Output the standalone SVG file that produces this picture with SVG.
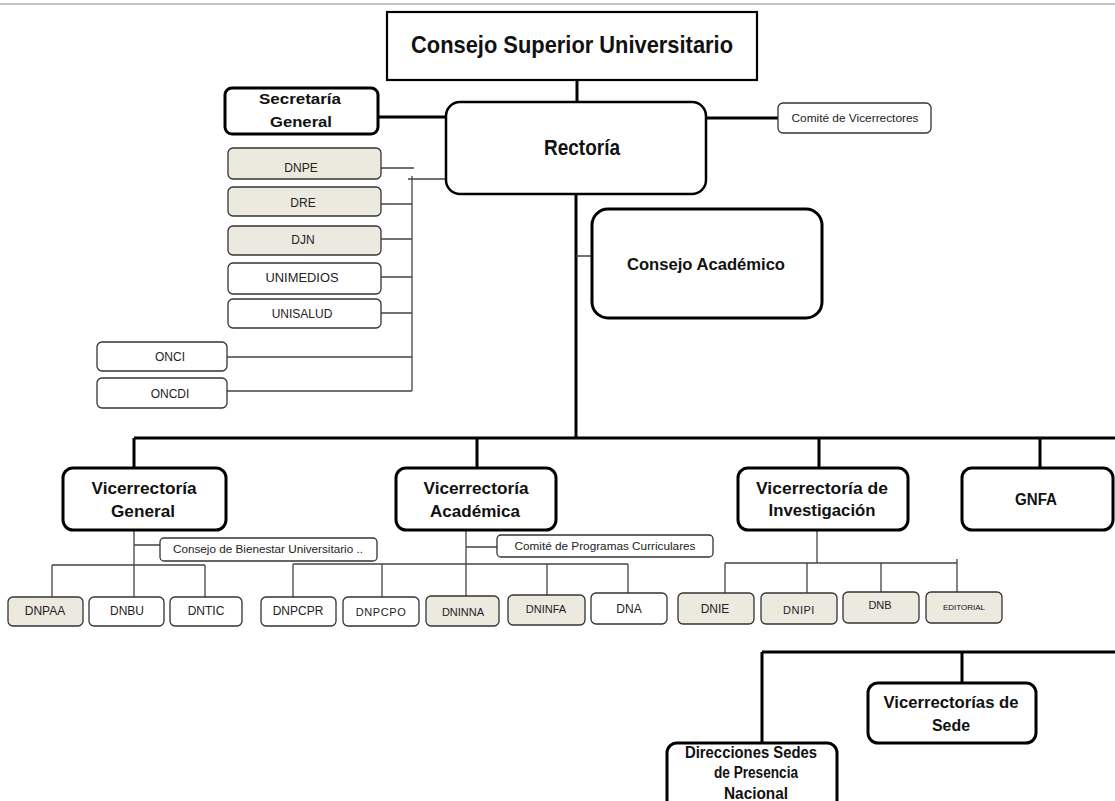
<svg xmlns="http://www.w3.org/2000/svg" width="1115" height="801" viewBox="0 0 1115 801">
<style>
  .bg{fill:#ffffff}
  .main{fill:#ffffff;stroke:#000;stroke-width:3}
  .csu{fill:#ffffff;stroke:#000;stroke-width:2.2}
  .small{fill:#ffffff;stroke:#333;stroke-width:1.3}
  .beige{fill:#ece9df;stroke:#333;stroke-width:1.3}
  .thick{fill:none;stroke:#000;stroke-width:3}
  .thin{fill:none;stroke:#444;stroke-width:1.3}
  text{font-family:"Liberation Sans",Arial,sans-serif;fill:#111;text-anchor:middle}
  .tb{font-weight:bold}
  .t10{font-size:10px;fill:#222}
  .t11{font-size:11px;fill:#222}
  .t12{font-size:12px;fill:#222}
</style>
<rect class="bg" x="0" y="0" width="1115" height="801"/>
<line x1="0" y1="4" x2="1115" y2="4" stroke="#c4c4c4" stroke-width="2"/>

<g id="connectors">
  <path class="thick" d="M577 80V102 M378 117H446 M706 118H778 M576 194V438 M134 438H1115 M134 438V468 M477 438V468 M819 438V468 M1040 438V468 M762 652H1115 M762 652V743 M962 652V683"/>
  <path class="thin" d="M576 256H592 M381 168H414 M412 176V391 M408 179H446 M381 204H412 M381 239H412 M381 277H412 M381 313H412 M227 357H412 M227 391H412"/>
  <path class="thin" d="M134 530V597 M134 545H160 M52 565H205 M52 565V597 M205 565V597"/>
  <path class="thin" d="M466 530V596 M466 547H497 M293 564H628 M293 564V597 M382 564V597 M547 564V595 M628 564V593"/>
  <path class="thin" d="M817 530V563 M725 563H957 M725 563V593 M807 563V593 M881 563V592 M957 559V592"/>
</g>

<g id="csu"><rect class="csu" x="387" y="12" width="370" height="68"/><text class="tb" x="572" y="53" font-size="24" textLength="322" lengthAdjust="spacingAndGlyphs">Consejo Superior Universitario</text></g>
<g id="secretaria"><rect class="main" x="225" y="88" width="153" height="46" rx="7"/><text class="tb" x="300" y="104" font-size="15" textLength="82" lengthAdjust="spacingAndGlyphs">Secretaría</text><text class="tb" x="301" y="127" font-size="15" textLength="62" lengthAdjust="spacingAndGlyphs">General</text></g>
<g id="rectoria"><rect x="446" y="102" width="260" height="92" rx="14" fill="#fff" stroke="#000" stroke-width="2.5"/><text class="tb" x="582" y="155" font-size="22" textLength="76" lengthAdjust="spacingAndGlyphs">Rectoría</text></g>
<g id="comite-vicerrectores"><rect class="small" x="778" y="103" width="153" height="30" rx="5"/><text class="t10" x="855" y="122" textLength="127" lengthAdjust="spacingAndGlyphs">Comité de Vicerrectores</text></g>
<g id="consejo-academico"><rect class="main" x="592" y="209" width="230" height="109" rx="16"/><text class="tb" x="706" y="270" font-size="17" textLength="158" lengthAdjust="spacingAndGlyphs">Consejo Académico</text></g>

<g id="dnpe"><rect class="beige" x="228" y="148" width="153" height="31" rx="5"/><text class="t12" x="301" y="172">DNPE</text></g>
<g id="dre"><rect class="beige" x="228" y="187" width="153" height="29" rx="5"/><text class="t12" x="303" y="207">DRE</text></g>
<g id="djn"><rect class="beige" x="228" y="226" width="153" height="29" rx="5"/><text class="t12" x="303" y="244">DJN</text></g>
<g id="unimedios"><rect class="small" x="228" y="263" width="153" height="31" rx="5"/><text class="t12" x="302" y="282" textLength="73" lengthAdjust="spacingAndGlyphs">UNIMEDIOS</text></g>
<g id="unisalud"><rect class="small" x="228" y="299" width="153" height="29" rx="5"/><text class="t12" x="302" y="318">UNISALUD</text></g>
<g id="onci"><rect class="small" x="97" y="342" width="130" height="29" rx="5"/><text class="t12" x="170" y="361">ONCI</text></g>
<g id="oncdi"><rect class="small" x="97" y="378" width="130" height="30" rx="5"/><text class="t12" x="170" y="398">ONCDI</text></g>

<g id="vic-general"><rect class="main" x="63" y="468" width="163" height="62" rx="10"/><text class="tb" x="144" y="494" font-size="17" textLength="105" lengthAdjust="spacingAndGlyphs">Vicerrectoría</text><text class="tb" x="143" y="517" font-size="17" textLength="64" lengthAdjust="spacingAndGlyphs">General</text></g>
<g id="vic-academica"><rect class="main" x="396" y="468" width="160" height="62" rx="10"/><text class="tb" x="476" y="494" font-size="17" textLength="105" lengthAdjust="spacingAndGlyphs">Vicerrectoría</text><text class="tb" x="475" y="517" font-size="17" textLength="90" lengthAdjust="spacingAndGlyphs">Académica</text></g>
<g id="vic-investigacion"><rect class="main" x="738" y="468" width="170" height="62" rx="10"/><text class="tb" x="822" y="494" font-size="17" textLength="132" lengthAdjust="spacingAndGlyphs">Vicerrectoría de</text><text class="tb" x="822" y="516" font-size="17" textLength="107" lengthAdjust="spacingAndGlyphs">Investigación</text></g>
<g id="gnfa"><rect class="main" x="962" y="468" width="151" height="62" rx="10"/><text class="tb" x="1036" y="505" font-size="16" textLength="42" lengthAdjust="spacingAndGlyphs">GNFA</text></g>

<g id="consejo-bienestar"><rect class="small" x="160" y="538" width="217" height="23" rx="4"/><text class="t10" x="268" y="553" textLength="190" lengthAdjust="spacingAndGlyphs">Consejo de Bienestar Universitario ..</text></g>
<g id="comite-programas"><rect class="small" x="497" y="535" width="216" height="22" rx="4"/><text class="t10" x="605" y="550" textLength="181" lengthAdjust="spacingAndGlyphs">Comité de Programas Curriculares</text></g>

<g id="dnpaa"><rect class="beige" x="8" y="597" width="75" height="29" rx="5"/><text class="t12" x="45" y="615">DNPAA</text></g>
<g id="dnbu"><rect class="small" x="89" y="597" width="75" height="29" rx="5"/><text class="t12" x="127" y="615">DNBU</text></g>
<g id="dntic"><rect class="small" x="170" y="597" width="72" height="29" rx="5"/><text class="t12" x="206" y="615">DNTIC</text></g>
<g id="dnpcpr"><rect class="small" x="261" y="597" width="75" height="29" rx="5"/><text class="t12" x="298" y="615">DNPCPR</text></g>
<g id="dnpcpo"><rect class="small" x="343" y="597" width="76" height="29" rx="5"/><text class="t11" x="381" y="616" letter-spacing="0.6">DNPCPO</text></g>
<g id="dninna"><rect class="beige" x="426" y="596" width="73" height="30" rx="5"/><text class="t11" x="463" y="616">DNINNA</text></g>
<g id="dninfa"><rect class="beige" x="508" y="595" width="77" height="30" rx="5"/><text class="t11" x="546" y="613">DNINFA</text></g>
<g id="dna"><rect class="small" x="591" y="593" width="76" height="31" rx="5"/><text class="t12" x="629" y="613">DNA</text></g>
<g id="dnie"><rect class="beige" x="678" y="593" width="76" height="31" rx="5"/><text class="t12" x="715" y="613">DNIE</text></g>
<g id="dnipi"><rect class="beige" x="761" y="593" width="76" height="31" rx="5"/><text class="t11" x="799" y="614" letter-spacing="0.5">DNIPI</text></g>
<g id="dnb"><rect class="beige" x="843" y="592" width="76" height="31" rx="5"/><text class="t11" x="880" y="609">DNB</text></g>
<g id="editorial"><rect class="beige" x="926" y="592" width="76" height="31" rx="5"/><text x="964" y="610" font-size="8" fill="#222">EDITORIAL</text></g>

<g id="vic-sede"><rect class="main" x="868" y="683" width="168" height="60" rx="10"/><text class="tb" x="951" y="708" font-size="16" textLength="135" lengthAdjust="spacingAndGlyphs">Vicerrectorías de</text><text class="tb" x="951" y="731" font-size="16" textLength="38" lengthAdjust="spacingAndGlyphs">Sede</text></g>
<g id="direcciones-sedes"><rect class="main" x="667" y="743" width="170" height="75" rx="10"/><text class="tb" x="751" y="758" font-size="16" textLength="132" lengthAdjust="spacingAndGlyphs">Direcciones Sedes</text><text class="tb" x="756" y="778" font-size="16" textLength="84" lengthAdjust="spacingAndGlyphs">de Presencia</text><text class="tb" x="756" y="799" font-size="16" textLength="64" lengthAdjust="spacingAndGlyphs">Nacional</text></g>
</svg>
